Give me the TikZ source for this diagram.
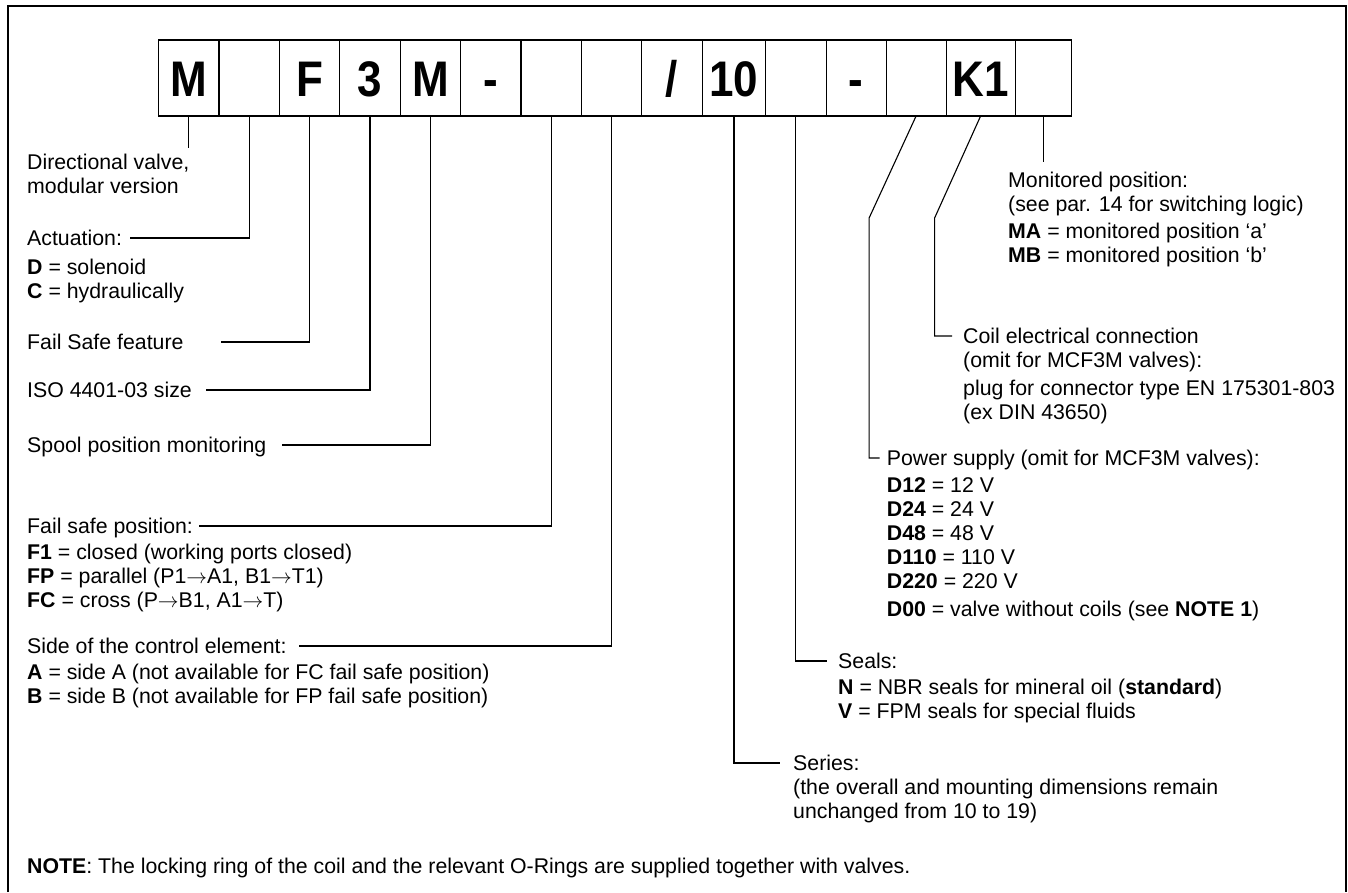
\documentclass[tikz,border=0pt]{standalone}
\usepackage{fontspec}
\setmainfont{Liberation Sans}
\newfontfamily\cellfont[FakeStretch=0.88]{Liberation Sans}
\usetikzlibrary{positioning}
\newcommand{\flowto}{\ensuremath{\rightarrow}}

\begin{document}
\begin{tikzpicture}[x=1pt, y=-1pt,
  cell/.style={draw, line width=1.1pt, outer sep=0pt, inner sep=0pt, minimum width=60.4pt, minimum height=76pt, text height=36pt, text depth=0pt, font=\cellfont\fontsize{50}{50}\selectfont\bfseries},
  ln/.style={line width=1.1pt},
  head/.style={anchor=west, inner sep=0pt, text height=15pt, text depth=1pt, font=\fontsize{21.3}{24}\selectfont},
  blk/.style={anchor=north west, inner sep=0pt, align=left, font=\fontsize{21.3}{24}\selectfont}
]
\useasboundingbox (0,0) rectangle (1348,892);
\draw[line width=1.6pt] (8,892) -- (8,6) -- (1346,6) -- (1346,892);

% code boxes
\node[cell, anchor=north west] (b1) at (158.6,40) {M};
\node[cell, right=0pt of b1] (b2) {};
\node[cell, right=0pt of b2] (b3) {F};
\node[cell, right=0pt of b3] (b4) {3};
\node[cell, right=0pt of b4] (b5) {M};
\node[cell, right=0pt of b5] (b6) {-};
\node[cell, right=0pt of b6] (b7) {};
\node[cell, right=0pt of b7] (b8) {};
\node[cell, right=0pt of b8] (b9) {/};
\node[cell, right=0pt of b9, minimum width=63.5pt] (b10) {10};
\node[cell, right=0pt of b10] (b11) {};
\node[cell, right=0pt of b11, minimum width=60pt] (b12) {-};
\node[cell, right=0pt of b12, minimum width=60pt] (b13) {};
\node[cell, right=0pt of b13, minimum width=69pt] (b14) {K1};
\node[cell, right=0pt of b14, minimum width=56pt] (b15) {};

% left column
\node[blk] (dirv) at (27,154) {Directional valve,\\modular version};
\node[head] (act) at (27,238) {Actuation:};
\node[blk] (actopt) at (27,259) {\textbf{D} = solenoid\\\textbf{C} = hydraulically};
\node[head] (fsf) at (27,342) {Fail Safe feature};
\node[head] (iso) at (27,390) {ISO 4401-03 size};
\node[head] (spm) at (27,445) {Spool position monitoring};
\node[head] (fsp) at (27,526) {Fail safe position:};
\node[blk] (fspopt) at (27,544) {\textbf{F1} = closed (working ports closed)\\\textbf{FP} = parallel (P1\flowto A1, B1\flowto T1)\\\textbf{FC} = cross (P\flowto B1, A1\flowto T)};
\node[head] (side) at (27,646) {Side of the control element:};
\node[blk] (sideopt) at (27,664) {\textbf{A} = side A (not available for FC fail safe position)\\\textbf{B} = side B (not available for FP fail safe position)};

% right column
\node[blk] (mon) at (1008,172) {Monitored position:\\(see par. 14 for switching logic)};
\node[blk] (monopt) at (1008,223) {\textbf{MA} = monitored position ‘a’\\\textbf{MB} = monitored position ‘b’};
\node[head] (coil) at (963,336) {Coil electrical connection};
\node[blk] (coilopt) at (963,352) {(omit for MCF3M valves):\\[4pt]plug for connector type EN 175301-803\\(ex DIN 43650)};
\node[head] (pow) at (886.7,458) {Power supply (omit for MCF3M valves):};
\node[blk] (powopt) at (886.7,477) {\textbf{D12} = 12 V\\\textbf{D24} = 24 V\\\textbf{D48} = 48 V\\\textbf{D110} = 110 V\\\textbf{D220} = 220 V\\[4pt]\textbf{D00} = valve without coils (see \textbf{NOTE 1})};
\node[head] (seal) at (838,661) {Seals:};
\node[blk] (sealopt) at (838,679) {\textbf{N} = NBR seals for mineral oil (\textbf{standard})\\\textbf{V} = FPM seals for special fluids};
\node[head] (ser) at (793,763) {Series:};
\node[blk] (seropt) at (793,779) {(the overall and mounting dimensions remain\\unchanged from 10 to 19)};
\node[head] (note) at (27,866) {\textbf{NOTE}: The locking ring of the coil and the relevant O-Rings are supplied together with valves.};

% leader lines
\draw[ln] (b1.south) -- ([yshift=6pt]b1.south |- dirv.north);
\draw[ln] (b2.south) |- ([xshift=8pt]act.east);
\draw[ln] (b3.south) |- ([xshift=37pt]fsf.east);
\draw[ln] (b4.south) |- ([xshift=14pt]iso.east);
\draw[ln] (b5.south) |- ([xshift=15pt]spm.east);
\draw[ln] (b7.south) |- ([xshift=6pt]fsp.east);
\draw[ln] (b8.south) |- ([xshift=12pt]side.east);
\draw[ln] (b10.south) |- ([xshift=-13pt]ser.west);
\draw[ln] (b11.south) |- ([xshift=-11pt]seal.west);
\draw[ln] (b13.south) -- ++(-47,102) |- ([xshift=-7pt]pow.west);
\draw[ln] (b14.south) -- ++(-46,102) |- ([xshift=-11pt]coil.west);
\draw[ln] (b15.south) -- ([yshift=10pt]b15.south |- mon.north);
\end{tikzpicture}
\end{document}
